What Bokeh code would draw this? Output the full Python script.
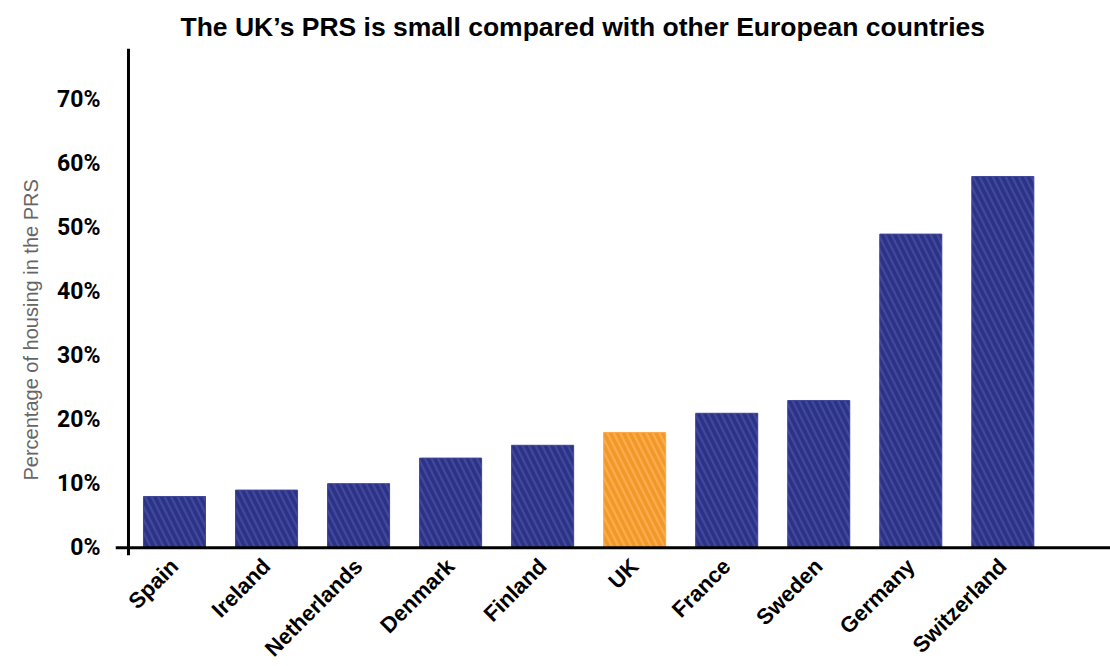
from bokeh.plotting import figure
from bokeh.models import Range1d, FixedTicker, PrintfTickFormatter, Span, ColumnDataSource, Title
from bokeh.embed import file_html
from bokeh.resources import INLINE
import math

countries = ["Spain", "Ireland", "Netherlands", "Denmark", "Finland", "UK",
             "France", "Sweden", "Germany", "Switzerland"]
prs_share = [8, 9, 10, 14, 16, 18, 21, 23, 49, 58]
y_ticks = [0, 10, 20, 30, 40, 50, 60, 70]

NAVY, NAVY_H = "#40489C", "#2C3286"
ORANGE, ORANGE_H = "#FCAA4A", "#F0982A"

xs = list(range(len(countries)))
fills = [ORANGE if c == "UK" else NAVY for c in countries]
hatches = [ORANGE_H if c == "UK" else NAVY_H for c in countries]
src = ColumnDataSource(dict(x=xs, top=prs_share, fill=fills, hatch=hatches))

p = figure(frame_width=995, frame_height=507, output_backend="svg", toolbar_location=None,
           x_range=Range1d(-0.641, 10.17), y_range=Range1d(-1.22, 78.0),
           min_border_left=115, min_border_right=0, min_border_top=48, min_border_bottom=100)
p.outline_line_color = None
p.xgrid.visible = False
p.ygrid.visible = False

p.vbar(x="x", top="top", bottom=0, width=0.674, source=src,
       fill_color="fill", line_color="fill", line_width=1,
       hatch_pattern="\\", hatch_color="hatch", hatch_scale=13, hatch_weight=3.5)

p.title.text = "The UK\u2019s PRS is small compared with other European countries"
p.title.align = "left"
p.title.offset = 65
p.title.standoff = 14
p.title.text_font = "Liberation Sans"
p.title.text_font_style = "bold"
p.title.text_font_size = "26.5px"
p.title.text_color = "#000000"

# y axis
ya = p.yaxis[0]
ya.ticker = FixedTicker(ticks=y_ticks)
ya.formatter = PrintfTickFormatter(format="%d%%")
ya.axis_line_color = None
ya.major_tick_line_color = None
ya.minor_tick_line_color = None
ya.major_tick_out = 0
ya.major_tick_in = 0
ya.major_label_text_font = "Roboto"
ya.major_label_text_font_style = "bold"
ya.major_label_text_font_size = "23px"
ya.major_label_text_color = "#000000"
ya.major_label_standoff = 15

ylab = Title(text="Percentage of housing in the PRS", align="left", offset=75,
             standoff=26, text_font="Liberation Sans", text_font_style="normal",
             text_font_size="20px", text_color="#666666")
p.add_layout(ylab, "left")

# x axis
xa = p.xaxis[0]
xa.ticker = FixedTicker(ticks=xs)
xa.major_label_overrides = {i: c for i, c in zip(xs, countries)}
xa.axis_line_color = None
xa.major_tick_line_color = None
xa.minor_tick_line_color = None
xa.major_tick_out = 0
xa.major_tick_in = 0
xa.major_label_orientation = math.pi / 4
xa.major_label_text_font = "Liberation Sans"
xa.major_label_text_font_style = "bold"
xa.major_label_text_font_size = "22px"
xa.major_label_text_color = "#000000"
xa.major_label_standoff = 7

p.add_layout(Span(location=0, dimension="width", line_color="black", line_width=3))
p.add_layout(Span(location=-0.5, dimension="height", line_color="black", line_width=3))

open("out.html", "w").write(file_html(p, INLINE))
